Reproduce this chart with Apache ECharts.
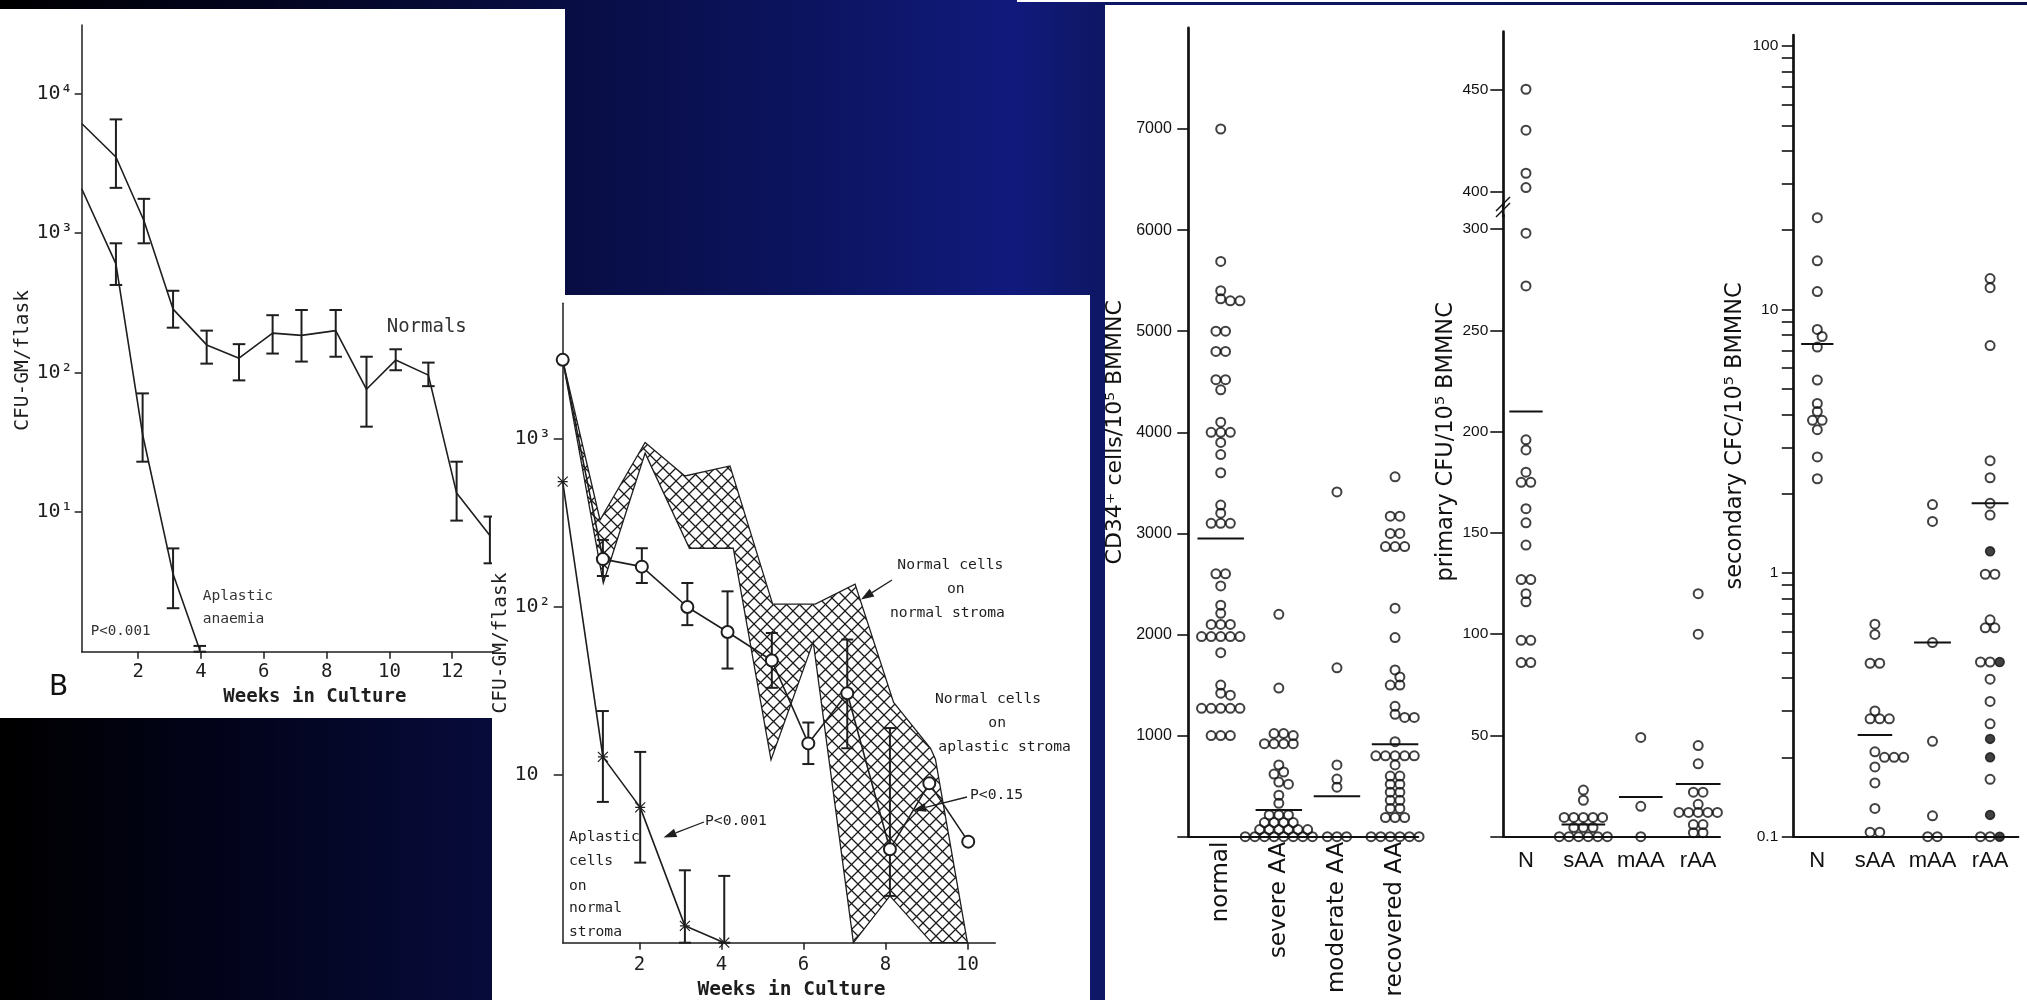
<!DOCTYPE html>
<html>
<head>
<meta charset="utf-8">
<script src="https://cdn.jsdelivr.net/npm/echarts@6/dist/echarts.min.js"></script>
<style>html,body{margin:0;padding:0;background:#000;}#c{width:2027px;height:1000px;}</style>
</head>
<body>
<div id="c"></div>
<script>
// ================= DATA =================
// Panel B : CFU-GM/flask vs weeks (log)
const bNormalsX  = [0.2, 1.29, 2.18, 3.11, 4.18, 5.21, 6.28, 7.20, 8.29, 9.27, 10.2, 11.24, 12.14, 13.2];
const bNormalsY  = [6100, 3510, 1230, 285, 158, 127, 192, 185, 200, 76, 123, 96, 13.7, 6.8];
const bNormalsLo = [null, 2110, 845, 210, 116, 88, 137, 120, 130, 41, 104, 80, 8.7, 4.3];
const bNormalsHi = [null, 6530, 1760, 386, 200, 160, 258, 281, 281, 130, 147, 118, 23, 9.3];
const bAplasticX  = [0.2, 1.29, 2.14, 3.11, 3.96];
const bAplasticY  = [2080, 601, 36, 3.6, 1.03];
const bAplasticLo = [null, 425, 23, 2.05, 1.0];
const bAplasticHi = [null, 845, 71, 5.5, 1.1];
const bWeekTicks = [2, 4, 6, 8, 10, 12];
const bLogTicks = [10, 100, 1000, 10000];
const bLogTickLabels = ['10\u00b9', '10\u00b2', '10\u00b3', '10\u2074'];

// Middle panel
const mWeeksO = [0.13, 1.11, 2.06, 3.17, 4.15, 5.23, 6.12, 7.07, 8.11, 9.07, 10.02];
const mNormalOnAplastic = [2970, 193, 174, 100, 71, 48, 15.4, 30.6, 3.6, 8.9, 4.0];
const mNOALo = [null, 153, 139, 78, 43, 33, 11.6, 14.4, 1.9, null, null];
const mNOAHi = [null, 251, 224, 139, 124, 70, 20.5, 64, 19, null, null];
const mWeeksX = [0.13, 1.11, 2.02, 3.11, 4.07];
const mAplasticOnNormal = [559, 12.8, 6.4, 1.26, 1.0];
const mAONLo = [null, 6.9, 3.0, 1.0, 1.0];
const mAONHi = [null, 24, 13.7, 2.7, 2.5];
const mBandUpperX = [0.13, 1.04, 2.14, 3.11, 4.21, 5.25, 6.29, 7.26, 8.2, 9.1, 9.22, 10.0];
const mBandUpperY = [2970, 330, 955, 604, 693, 104, 104, 137, 27, 14.4, 12.4, 1];
const mBandLowerX = [0.13, 1.12, 2.14, 3.22, 4.29, 5.21, 6.24, 7.22, 8.11, 9.13, 10.0];
const mBandLowerY = [2970, 139, 826, 224, 224, 12.3, 62, 1, 1.9, 1, 1];
const mWeekTicks = [2, 4, 6, 8, 10];
const mLogTicks = [10, 100, 1000];
const mLogTickLabels = ['10 ', '10\u00b2', '10\u00b3'];

// CD34+ cells / 10^5 BMMNC
const cd34Cats = ['normal', 'severe AA', 'moderate AA', 'recovered AA'];
const cd34Normal = [7000, 5690, 5400, 5320, 5300, 5300, 5000, 5000, 4800, 4800, 4520, 4520, 4420, 4100, 4000, 4000, 4000, 3900, 3780, 3600, 3280, 3200, 3100, 3100, 3100, 2600, 2600, 2480, 2290, 2210, 2100, 2100, 2100, 1980, 1980, 1980, 1980, 1980, 1820, 1500, 1420, 1400, 1270, 1270, 1270, 1270, 1270, 1000, 1000, 1000];
const cd34Severe = [2200, 1470, 1020, 1020, 1000, 920, 920, 920, 920, 710, 640, 620, 540, 520, 410, 330, 215, 215, 215, 140, 140, 140, 140, 70, 70, 70, 70, 70, 70, 0, 0, 0, 0, 0, 0, 0, 0];
const cd34Moderate = [3410, 1670, 710, 570, 490, 0, 0, 0];
const cd34Recovered = [3560, 3170, 3170, 3000, 3000, 2870, 2870, 2870, 2260, 1970, 1650, 1580, 1500, 1500, 1290, 1210, 1180, 1180, 940, 800, 800, 800, 800, 800, 710, 600, 600, 520, 520, 440, 440, 360, 360, 280, 280, 190, 190, 190, 0, 0, 0, 0, 0, 0];
const cd34Means = [2950, 265, 400, 915];
const cd34TickVals = [0, 1000, 2000, 3000, 4000, 5000, 6000, 7000];
const cd34LabelVals = [1000, 2000, 3000, 4000, 5000, 6000, 7000];

// primary CFU / 10^5 BMMNC (broken axis 300 // 400)
const shortCats = ['N', 'sAA', 'mAA', 'rAA'];
const primN = [450, 430, 409, 402, 298, 272, 196, 191, 180, 175, 175, 162, 155, 144, 127, 127, 120, 116, 97, 97, 86, 86];
const primS = [23, 18, 9.5, 9.5, 9.5, 9.5, 9.5, 4.5, 4.5, 4.5, 0, 0, 0, 0, 0, 0];
const primM = [49, 15, 0];
const primR = [120, 100, 45, 36, 22, 22, 16, 12, 12, 12, 12, 12, 6, 6, 2, 2];
const primMeans = [210, 6, 19.6, 26];
const primLowTicks = [0, 50, 100, 150, 200, 250, 300];
const primLowLabels = [50, 100, 150, 200, 250, 300];
const primHighTicks = [400, 450];

// secondary CFC / 10^5 BMMNC (log)
const secN = [22.3, 15.3, 11.7, 8.4, 7.9, 7.2, 5.4, 4.4, 4.1, 3.8, 3.8, 3.5, 2.76, 2.28];
const secS = [0.64, 0.585, 0.455, 0.455, 0.30, 0.28, 0.28, 0.28, 0.21, 0.2, 0.2, 0.2, 0.184, 0.16, 0.128, 0.104, 0.104];
const secM = [1.82, 1.57, 0.545, 0.23, 0.12, 0.1, 0.1];
const secR = [13.1, 12.1, 7.3, 2.67, 2.3, 1.84, 1.66, 0.99, 0.99, 0.665, 0.62, 0.62, 0.46, 0.46, 0.396, 0.326, 0.268, 0.165, 0.1, 0.1];
const secRFilled = [1.21, 0.46, 0.235, 0.2, 0.121, 0.1];
const secMeans = [7.4, 0.243, 0.545, 1.84];
const secTickVals = [0.1,0.2,0.3,0.4,0.5,0.6,0.7,0.8,0.9,1,2,3,4,5,6,7,8,9,10,20,30,40,50,60,70,80,90,100];
const secLabelVals = [0.1, 1, 10, 100];

// ================= STYLE =================
const MONO = "'DejaVu Sans Mono', 'Liberation Mono', monospace";
const SANS = "'Liberation Sans', Arial, sans-serif";
const WIDE = "'DejaVu Sans', sans-serif";
const NARROW = "'Liberation Sans Narrow', 'Liberation Sans', sans-serif";
const INK = '#111111';
const INK2 = '#1e1e1e';
const cd34MeanHW = [0.4, 0.4, 0.4, 0.4];
const primMeanHW = [0.29, 0.38, 0.38, 0.39];
const secMeanHW = [0.28, 0.3, 0.32, 0.32];
const STEP = 9.6, RX = 9.6, RY = 8;

const chart = echarts.init(document.getElementById('c'), null, {renderer: 'canvas', width: 2027, height: 1000});

// hatch pattern for the band
function hatchCanvas() {
  const s = 13, c = document.createElement('canvas');
  c.width = s; c.height = s;
  const g = c.getContext('2d');
  g.strokeStyle = '#1a1a1a'; g.lineWidth = 1.3;
  g.beginPath();
  g.moveTo(-1, -1); g.lineTo(s + 1, s + 1);
  g.moveTo(s + 1, -1); g.lineTo(-1, s + 1);
  g.stroke();
  return c;
}
const HATCH = hatchCanvas();

// ================= GRAPHIC (panels, annotations) =================
const G = [];
G.push({type: 'rect', z: -20, silent: true, shape: {x: 0, y: 0, width: 2027, height: 1000},
  style: {fill: {type: 'linear', x: 0, y: 0, x2: 1, y2: 0, colorStops: [
    {offset: 0, color: '#000000'}, {offset: 0.1, color: '#020318'}, {offset: 0.24, color: '#070b3a'},
    {offset: 0.4, color: '#0c1460'}, {offset: 0.5, color: '#111a7c'}, {offset: 0.54, color: '#0e1766'},
    {offset: 1, color: '#0a1048'}]}}});
G.push({type: 'rect', z: -15, silent: true, shape: {x: 0, y: 9, width: 565, height: 709}, style: {fill: '#ffffff'}});
G.push({type: 'rect', z: -15, silent: true, shape: {x: 1105, y: 5, width: 922, height: 995}, style: {fill: '#ffffff'}});
G.push({type: 'rect', z: -15, silent: true, shape: {x: 1017, y: 0, width: 1010, height: 2}, style: {fill: '#ffffff'}});
G.push({type: 'rect', z: 5, silent: true, shape: {x: 492, y: 295, width: 598, height: 705}, style: {fill: '#ffffff'}});

function txt(x, y, text, size, fam, z, fill, align) {
  G.push({type: 'text', x: x, y: y, z: z, silent: true,
    style: {text: text, font: size + 'px ' + fam, fill: fill || INK2, align: align || 'left', verticalAlign: 'middle',
      textAlign: align || 'left', textVerticalAlign: 'middle'}});
}
function arrow(tx, ty, hx, hy, z) {
  const dx = hx - tx, dy = hy - ty, L = Math.hypot(dx, dy), ux = dx / L, uy = dy / L;
  const hl = 13, hw = 4.5, bx = hx - ux * hl, by = hy - uy * hl;
  G.push({type: 'polyline', z: z, silent: true, shape: {points: [[tx, ty], [bx, by]]}, style: {stroke: INK2, lineWidth: 1.3, fill: null}});
  G.push({type: 'polygon', z: z, silent: true, shape: {points: [[hx, hy], [bx - uy * hw, by + ux * hw], [bx + uy * hw, by - ux * hw]]}, style: {fill: INK2}});
}
// panel B texts
txt(386.7, 327.3, 'Normals', 19, MONO, 3, '#333');
txt(202.7, 596, 'Aplastic', 14.6, MONO, 3, '#333');
txt(202.7, 619.3, 'anaemia', 14.6, MONO, 3, '#333');
txt(90.7, 631.7, 'P<0.001', 14.2, MONO, 3, '#333');
txt(49, 688, 'B', 28, WIDE, 3, INK);
// middle panel texts
txt(897.3, 565, 'Normal cells', 14.7, MONO, 12);
txt(947, 589.3, 'on', 14.7, MONO, 12);
txt(890, 613.3, 'normal stroma', 14.7, MONO, 12);
txt(935, 699, 'Normal cells', 14.7, MONO, 12);
txt(988.3, 723.3, 'on', 14.7, MONO, 12);
txt(938.3, 747.3, 'aplastic stroma', 14.7, MONO, 12);
txt(970, 795, 'P<0.15', 14.7, MONO, 12);
txt(705, 820.7, 'P<0.001', 14.7, MONO, 12);
txt(569, 837.3, 'Aplastic', 14.7, MONO, 12);
txt(569, 860.7, 'cells', 14.7, MONO, 12);
txt(569, 885.7, 'on', 14.7, MONO, 12);
txt(569, 908.3, 'normal', 14.7, MONO, 12);
txt(569, 932.3, 'stroma', 14.7, MONO, 12);
arrow(892, 580, 861, 599.5, 12);
arrow(967, 797, 913, 810.5, 12);
arrow(704, 822, 663.5, 837.5, 12);
// axis break marks on primary CFU axis
G.push({type: 'line', z: 10, silent: true, shape: {x1: 1503.3, y1: 203, x2: 1503.3, y2: 217}, style: {stroke: INK, lineWidth: 2.7}});
G.push({type: 'line', z: 11, silent: true, shape: {x1: 1496, y1: 211, x2: 1510, y2: 197}, style: {stroke: INK, lineWidth: 1.4}});
G.push({type: 'line', z: 11, silent: true, shape: {x1: 1496, y1: 217, x2: 1510, y2: 203}, style: {stroke: INK, lineWidth: 1.4}});

// ================= HELPERS =================
function zip(xs, ys) { return xs.map((x, i) => [x, ys[i]]); }
function errData(xs, lo, hi) {
  const out = [];
  xs.forEach((x, i) => { if (lo[i] != null && hi[i] != null) out.push([x, lo[i], hi[i]]); });
  return out;
}
function errRender(halfCap, lw) {
  return function (params, api) {
    const x = api.value(0), lo = api.value(1), hi = api.value(2);
    const a = api.coord([x, lo]), b = api.coord([x, hi]);
    const st = {stroke: INK2, lineWidth: lw};
    return {type: 'group', children: [
      {type: 'line', shape: {x1: a[0], y1: a[1], x2: b[0], y2: b[1]}, style: st},
      {type: 'line', shape: {x1: b[0] - halfCap, y1: b[1], x2: b[0] + halfCap, y2: b[1]}, style: st},
      {type: 'line', shape: {x1: a[0] - halfCap, y1: a[1], x2: a[0] + halfCap, y2: a[1]}, style: st}
    ]};
  };
}
function meanRender(hws) {
  return function (params, api) {
    const c = api.value(0), m = api.value(1), hw = hws[params.dataIndex];
    const a = api.coord([c - hw, m]), b = api.coord([c + hw, m]);
    return {type: 'line', shape: {x1: a[0], y1: a[1], x2: b[0], y2: b[1]}, style: {stroke: INK, lineWidth: 2}};
  };
}
const bandPts = zip(mBandUpperX, mBandUpperY).concat(zip(mBandLowerX, mBandLowerY).reverse());
const plain = v => String(Math.round(v));

function vAxis(o) {
  return Object.assign({type: 'value', splitLine: {show: false}, axisPointer: {show: false}, silent: true}, o);
}
function line(color, width) { return {show: true, onZero: false, lineStyle: {color: color, width: width}}; }
function ticks(vals, len, color, width) { return {show: true, customValues: vals, length: len, inside: false, lineStyle: {color: color, width: width}}; }

const xAxes = [
  vAxis({gridIndex: 0, min: 0.2, max: 13.267, axisLine: line(INK2, 1.5), axisTick: ticks(bWeekTicks, 7, INK2, 1.5),
    axisLabel: {customValues: bWeekTicks, formatter: plain, fontFamily: MONO, fontSize: 19, color: INK2, margin: 11, hideOverlap: false},
    name: 'Weeks in Culture', nameLocation: 'middle', nameGap: 36,
    nameTextStyle: {fontFamily: MONO, fontSize: 19, fontWeight: 'bold', color: INK2, padding: [0, 0, 0, 56]}}),
  vAxis({gridIndex: 1, z: 10, min: 0.13, max: 10.68, axisLine: line(INK2, 1.5), axisTick: ticks(mWeekTicks, 7, INK2, 1.5),
    axisLabel: {customValues: mWeekTicks, formatter: plain, fontFamily: MONO, fontSize: 19, color: INK2, margin: 13, hideOverlap: false},
    name: 'Weeks in Culture', nameLocation: 'middle', nameGap: 37,
    nameTextStyle: {fontFamily: MONO, fontSize: 19.5, fontWeight: 'bold', color: INK2, padding: [0, 0, 0, 25]}}),
  vAxis({gridIndex: 2, min: 0.442, max: 4.4, axisLine: line(INK, 2.2), axisTick: {show: false},
    axisLabel: {customValues: [1, 2, 3, 4], formatter: v => cd34Cats[Math.round(v) - 1], rotate: 90,
      fontFamily: WIDE, fontSize: 23, color: INK, margin: 5, hideOverlap: false}}),
  vAxis({gridIndex: 3, min: 0.605, max: 4.38, axisLine: line(INK, 2.2), axisTick: {show: false},
    axisLabel: {customValues: [1, 2, 3, 4], formatter: v => shortCats[Math.round(v) - 1],
      fontFamily: NARROW, fontSize: 22, color: INK, margin: 13, hideOverlap: false}}),
  vAxis({gridIndex: 4, min: 0.605, max: 4.38, show: false}),
  vAxis({gridIndex: 5, min: 0.583, max: 4.49, axisLine: line(INK, 2.2), axisTick: {show: false},
    axisLabel: {customValues: [1, 2, 3, 4], formatter: v => shortCats[Math.round(v) - 1],
      fontFamily: NARROW, fontSize: 22, color: INK, margin: 13, hideOverlap: false}})
];
const yAxes = [
  vAxis({gridIndex: 0, type: 'log', logBase: 10, min: 1, max: 31000, axisLine: line(INK2, 1.5), axisTick: ticks(bLogTicks, 7, INK2, 1.5),
    axisLabel: {customValues: bLogTicks, formatter: v => bLogTickLabels[bLogTicks.indexOf(Math.round(v))], fontFamily: MONO, fontSize: 20, color: INK2, margin: 9, hideOverlap: false},
    name: 'CFU-GM/flask', nameLocation: 'middle', nameRotate: 90, nameGap: 45,
    nameTextStyle: {fontFamily: MONO, fontSize: 19.5, color: INK2, padding: [0, 44, 0, 0]}}),
  vAxis({gridIndex: 1, z: 10, type: 'log', logBase: 10, min: 1, max: 6450, axisLine: line(INK2, 1.5), axisTick: ticks(mLogTicks, 9, INK2, 1.5),
    axisLabel: {customValues: mLogTicks, formatter: v => mLogTickLabels[mLogTicks.indexOf(Math.round(v))], fontFamily: MONO, fontSize: 20, color: INK2, margin: 12, hideOverlap: false},
    name: 'CFU-GM/flask', nameLocation: 'middle', nameRotate: 90, nameGap: 46,
    nameTextStyle: {fontFamily: MONO, fontSize: 19.5, color: INK2, padding: [0, 40, 0, 0]}}),
  vAxis({gridIndex: 2, min: 0, max: 8000, axisLine: line(INK, 2.7), axisTick: ticks(cd34TickVals, 11, INK, 1.6),
    axisLabel: {customValues: cd34LabelVals, formatter: plain, fontFamily: SANS, fontSize: 16, color: INK, margin: 16.5, hideOverlap: false},
    name: 'CD34\u207a cells/10\u2075 BMMNC', nameLocation: 'middle', nameRotate: 90, nameGap: 62,
    nameTextStyle: {fontFamily: WIDE, fontSize: 22, color: INK}}),
  vAxis({gridIndex: 3, min: 0, max: 307, axisLine: line(INK, 2.7), axisTick: ticks(primLowTicks, 13, INK, 1.6),
    axisLabel: {customValues: primLowLabels, formatter: plain, fontFamily: SANS, fontSize: 15.5, color: INK, margin: 15, hideOverlap: false},
    name: 'primary CFU/10\u2075 BMMNC', nameLocation: 'middle', nameRotate: 90, nameGap: 46,
    nameTextStyle: {fontFamily: WIDE, fontSize: 22.5, color: INK, padding: [0, 0, 0, 168]}}),
  vAxis({gridIndex: 4, min: 393.5, max: 478.1, axisLine: line(INK, 2.7), axisTick: ticks(primHighTicks, 13, INK, 1.6),
    axisLabel: {customValues: primHighTicks, formatter: plain, fontFamily: SANS, fontSize: 15.5, color: INK, margin: 15, hideOverlap: false}}),
  vAxis({gridIndex: 5, type: 'log', logBase: 10, min: 0.1, max: 110, axisLine: line(INK, 2.7), axisTick: ticks(secTickVals, 11.5, INK, 1.6),
    axisLabel: {customValues: secLabelVals, formatter: v => (v < 0.5 ? '0.1' : String(Math.round(v))), fontFamily: SANS, fontSize: 15.5, color: INK, margin: 15, hideOverlap: false},
    name: 'secondary CFC/10\u2075 BMMNC', nameLocation: 'middle', nameRotate: 90, nameGap: 47,
    nameTextStyle: {fontFamily: WIDE, fontSize: 22.5, color: INK}})
];

const dotStyle = {color: 'transparent', borderColor: INK, borderWidth: 2};
const filledStyle = {color: INK, borderColor: INK, borderWidth: 1.5};
function scatter(id, idx, style, z) {
  return {id: id, type: 'scatter', xAxisIndex: idx, yAxisIndex: idx, data: [], symbol: 'circle', symbolSize: 9,
    itemStyle: style, z: z || 4, silent: true, clip: false};
}

const series = [
  // Panel B
  {type: 'line', xAxisIndex: 0, yAxisIndex: 0, data: zip(bNormalsX, bNormalsY), symbol: 'none', lineStyle: {color: INK2, width: 1.6}, z: 2, silent: true},
  {type: 'line', xAxisIndex: 0, yAxisIndex: 0, data: zip(bAplasticX, bAplasticY), symbol: 'none', lineStyle: {color: INK2, width: 1.6}, z: 2, silent: true},
  {type: 'custom', xAxisIndex: 0, yAxisIndex: 0, data: errData(bNormalsX, bNormalsLo, bNormalsHi), renderItem: errRender(6.3, 2), z: 2, silent: true, clip: false},
  {type: 'custom', xAxisIndex: 0, yAxisIndex: 0, data: errData(bAplasticX, bAplasticLo, bAplasticHi), renderItem: errRender(6.3, 2), z: 2, silent: true, clip: false},
  // Middle panel band
  {type: 'custom', xAxisIndex: 1, yAxisIndex: 1, data: [bandPts[0]], z: 10, silent: true, clip: false,
    renderItem: function (params, api) {
      return {type: 'polygon', shape: {points: bandPts.map(p => api.coord(p))},
        style: {fill: {image: HATCH, repeat: 'repeat'}, stroke: INK2, lineWidth: 1.3}};
    }},
  {type: 'line', xAxisIndex: 1, yAxisIndex: 1, data: zip(mWeeksO, mNormalOnAplastic), symbol: 'emptyCircle', symbolSize: 12,
    itemStyle: {color: INK2, borderColor: INK2, borderWidth: 1.5}, lineStyle: {color: INK2, width: 1.6}, z: 12, silent: true},
  {type: 'line', xAxisIndex: 1, yAxisIndex: 1, data: zip(mWeeksX, mAplasticOnNormal), symbol: 'path://M0,0L10,10M10,0L0,10M0,5L10,5', symbolSize: 10,
    itemStyle: {color: INK2, borderColor: INK2, borderWidth: 1.2}, lineStyle: {color: INK2, width: 1.6}, z: 12, silent: true},
  {type: 'custom', xAxisIndex: 1, yAxisIndex: 1, data: errData(mWeeksO, mNOALo, mNOAHi), renderItem: errRender(6, 2), z: 11, silent: true, clip: false},
  {type: 'custom', xAxisIndex: 1, yAxisIndex: 1, data: errData(mWeeksX, mAONLo, mAONHi), renderItem: errRender(6, 2), z: 11, silent: true, clip: false},
  // CD34
  scatter('cd34dots', 2, dotStyle),
  {type: 'custom', xAxisIndex: 2, yAxisIndex: 2, data: cd34Means.map((m, i) => [i + 1, m]), renderItem: meanRender(cd34MeanHW), z: 5, silent: true, clip: false},
  // primary
  scatter('primLow', 3, dotStyle),
  scatter('primHigh', 4, dotStyle),
  {type: 'custom', xAxisIndex: 3, yAxisIndex: 3, data: primMeans.map((m, i) => [i + 1, m]), renderItem: meanRender(primMeanHW), z: 5, silent: true, clip: false},
  // secondary
  scatter('secOpen', 5, dotStyle),
  scatter('secFilled', 5, filledStyle),
  {type: 'custom', xAxisIndex: 5, yAxisIndex: 5, data: secMeans.map((m, i) => [i + 1, m]), renderItem: meanRender(secMeanHW), z: 5, silent: true, clip: false}
];

const option = {
  animation: false,
  backgroundColor: '#000000',
  tooltip: {show: false},
  graphic: {elements: G},
  grid: [
    {left: 81.7, top: 25, width: 410.3, height: 626.7},
    {left: 562.7, top: 303.3, width: 432.6, height: 639.4},
    {left: 1188.3, top: 27.9, width: 230, height: 808.8},
    {left: 1503.3, top: 215, width: 216.7, height: 621.7},
    {left: 1503.3, top: 31.7, width: 216.7, height: 173.3},
    {left: 1793.3, top: 35, width: 225, height: 801.7}
  ].map(g => Object.assign({containLabel: false, outerBoundsMode: 'none', show: false}, g)),
  xAxis: xAxes,
  yAxis: yAxes,
  series: series
};
chart.setOption(option);

// ================= beeswarm layout through the chart's own scales =================
function swarm(gridIndex, groups) {
  const out = [];
  groups.forEach((items, k) => {
    if (!items.length) return;
    const cat = k + 1;
    const x0 = chart.convertToPixel({gridIndex: gridIndex}, [cat, items[0].v])[0];
    const unit = chart.convertToPixel({gridIndex: gridIndex}, [cat + 1, items[0].v])[0] - x0;
    const byVal = new Map();
    items.forEach(it => { if (!byVal.has(it.v)) byVal.set(it.v, []); byVal.get(it.v).push(it); });
    const keys = Array.from(byVal.keys()).sort((a, b) => b - a);
    const placed = [];
    keys.forEach(v => {
      const row = byVal.get(v);
      const py = chart.convertToPixel({gridIndex: gridIndex}, [cat, v])[1];
      const n = row.length;
      for (let i = 0; i < 80; i++) {
        const b = Math.ceil(i / 2) * (i % 2 ? 0.5 : -0.5) * STEP;
        const xs = row.map((_, j) => b + (j - (n - 1) / 2) * STEP);
        const ok = xs.every(ox => placed.every(q => Math.pow((q.ox - ox) / RX, 2) + Math.pow((q.py - py) / RY, 2) >= 1));
        if (ok) {
          xs.forEach((ox, j) => { placed.push({ox: ox, py: py}); out.push({value: [cat + ox / unit, v], f: row[j].f}); });
          break;
        }
      }
    });
  });
  return out;
}
const wrap = (arr, f) => arr.map(v => ({v: v, f: !!f}));
const cd34Dots = swarm(2, [wrap(cd34Normal), wrap(cd34Severe), wrap(cd34Moderate), wrap(cd34Recovered)]);
const BREAK_LOW = 350;
const primLowDots = swarm(3, [wrap(primN.filter(v => v < BREAK_LOW)), wrap(primS), wrap(primM), wrap(primR)]);
const primHighDots = swarm(4, [wrap(primN.filter(v => v >= BREAK_LOW)), [], [], []]);
const secDots = swarm(5, [wrap(secN), wrap(secS), wrap(secM), wrap(secR).concat(wrap(secRFilled, true))]);

chart.setOption({series: [
  {id: 'cd34dots', data: cd34Dots.map(d => d.value)},
  {id: 'primLow', data: primLowDots.map(d => d.value)},
  {id: 'primHigh', data: primHighDots.map(d => d.value)},
  {id: 'secOpen', data: secDots.filter(d => !d.f).map(d => d.value)},
  {id: 'secFilled', data: secDots.filter(d => d.f).map(d => d.value)}
]});
</script>
</body>
</html>
